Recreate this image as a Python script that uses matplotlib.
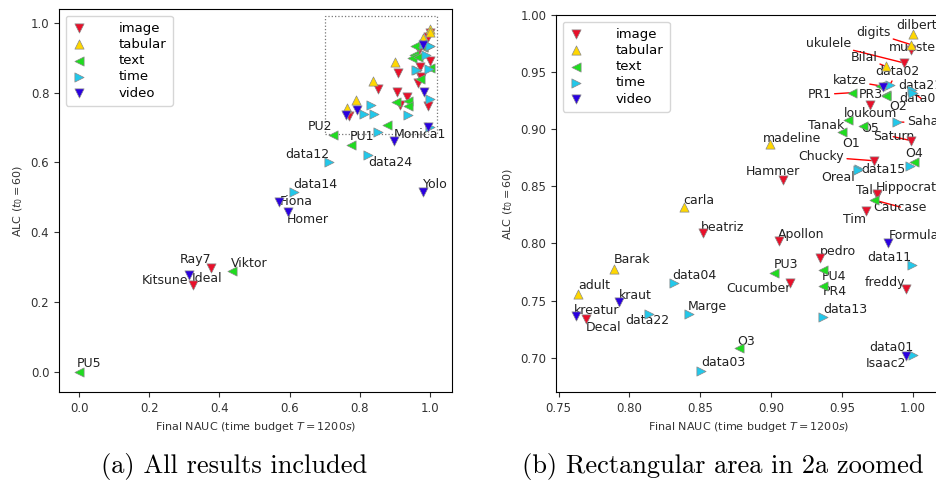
import matplotlib
matplotlib.use("Agg")
import matplotlib.pyplot as plt
from matplotlib.patches import Rectangle

# dataset names, their domain, final NAUC and ALC
names = ["PU5", "Kitsune", "Ideal", "Ray7", "Viktor", "Fiona", "Homer", "data14",
         "data12", "data24", "PU2", "PU1", "Monica1", "Yolo",
         "dilbert", "digits", "munster", "ukulele", "Bilal", "data02", "katze", "",
         "PR1", "PR3", "O2", "data21", "data05", "loukoum", "Tanak", "O1", "O5",
         "Sahal", "Saturn", "madeline", "O4", " ", "Chucky", "data15", "Oreal",
         "Hammer", "Tal", "Hippocrate", "Caucase", "Tim", "Formula", "data11",
         "freddy", "pedro", "PU4", "PR4", "data13", "data01", "Isaac2", "carla",
         "beatriz", "Apollon", "PU3", "Cucumber", "Barak", "adult", "kraut",
         "kreatur", "Decal", "data22", "data04", "Marge", "O3", "data03"]
domains = ["text", "video", "image", "image", "text", "video", "video", "time",
           "time", "time", "text", "text", "video", "video",
           "tabular", "tabular", "image", "image", "tabular", "time", "text", "video",
           "text", "text", "text", "time", "time", "image", "text", "text", "text",
           "time", "image", "tabular", "text", "time", "image", "time", "time",
           "image", "image", "image", "text", "image", "video", "time",
           "image", "image", "text", "text", "time", "time", "video", "tabular",
           "image", "image", "text", "image", "tabular", "tabular", "video",
           "video", "image", "time", "time", "time", "text", "time"]
nauc = [0.0, 0.314, 0.3235, 0.377, 0.436, 0.570, 0.595, 0.612,
        0.712, 0.825, 0.724, 0.776, 0.899, 0.980,
        1.000, 0.999, 0.999, 0.994, 0.981, 0.984, 0.977, 0.979,
        0.957, 0.981, 0.9815, 0.9995, 1.0005, 0.9696, 0.954, 0.950, 0.965,
        0.989, 0.999, 0.8995, 1.0006, 0.998, 0.973, 0.962, 0.9615,
        0.9084, 0.9745, 0.975, 0.973, 0.967, 0.9826, 0.9995,
        0.9955, 0.9348, 0.937, 0.937, 0.937, 1.0002, 0.9955, 0.8383,
        0.8517, 0.9054, 0.9023, 0.9136, 0.7893, 0.7637, 0.7928,
        0.7622, 0.7695, 0.8136, 0.8312, 0.8418, 0.8771, 0.8508]
alc = [0.0, 0.278, 0.249, 0.299, 0.289, 0.488, 0.4575, 0.514,
       0.601, 0.621, 0.679, 0.6485, 0.660, 0.515,
       0.983, 0.974, 0.969, 0.958, 0.955, 0.939, 0.938, 0.937,
       0.932, 0.930, 0.9293, 0.934, 0.932, 0.921, 0.908, 0.898, 0.903,
       0.906, 0.890, 0.887, 0.871, 0.868, 0.8724, 0.865, 0.8645,
       0.856, 0.8425, 0.843, 0.838, 0.828, 0.8005, 0.781,
       0.760, 0.787, 0.777, 0.7625, 0.736, 0.702, 0.7013, 0.8317,
       0.8092, 0.8025, 0.7743, 0.7655, 0.7778, 0.7554, 0.749,
       0.7364, 0.7335, 0.7379, 0.765, 0.7379, 0.7082, 0.6884]

categories = ["image", "tabular", "text", "time", "video"]

# styling
colors = {"image": "#e8102a", "tabular": "#ffd700", "text": "#1fdc1f",
          "time": "#22c8ea", "video": "#2a00e0"}
markers = {"image": "v", "tabular": "^", "text": "<", "time": ">", "video": "v"}

# label offsets (pixels) for panel (a) and panel (b)
offs_a = {"PU5": (10, 9), "Kitsune": (-24, -6), "Ideal": (15, 7), "Ray7": (-16, 8),
          "Viktor": (17, 8), "Fiona": (17, 0), "Homer": (20, -7), "data14": (22, 8),
          "data12": (-22, 8), "data24": (22, -7), "PU2": (-13, 8), "PU1": (11, 9),
          "Monica1": (25, 7), "Yolo": (12, 8)}
offs_b = {"dilbert": (4, 9), "digits": (-38, 12), "munster": (4, 3), "ukulele": (-76, 19),
          "Bilal": (-22, 9), "data02": (7, 13), "katze": (-30, 5), "PR1": (-32, -2),
          "PR3": (-15, 0), "data21": (8, 5), "data05": (8, -6), "O2": (12, -11),
          "loukoum": (1, -8), "Tanak": (-21, -5), "O1": (9, -12), "O5": (7, -3),
          "Sahal": (27, 1), "Saturn": (-18, 4), "madeline": (22, 6), "O4": (1, 9),
          "Chucky": (-53, 4), "data15": (25, 0), "Oreal": (-20, -8), "Hammer": (-10, 8),
          "Tal": (-12, 4), "Hippocrate": (33, 7), "Caucase": (26, -7), "Tim": (-11, -8),
          "Formula": (26, 7), "data11": (-23, 8), "freddy": (-21, 7), "pedro": (18, 7),
          "PU4": (11, -7), "PR4": (11, -5), "data13": (22, 7), "data01": (-22, 8),
          "Isaac2": (-20, -7), "carla": (15, 7), "beatriz": (20, 5), "Apollon": (22, 6),
          "PU3": (12, 8), "Cucumber": (-32, -6), "Barak": (18, 9), "adult": (16, 9),
          "kraut": (16, 6), "kreatur": (21, 6), "Decal": (17, -8), "data22": (-1, -6),
          "data04": (21, 8), "Marge": (19, 8), "O3": (8, 7), "data03": (22, 8)}
# labels whose red leader line is visible in the original
leaders = {"digits", "ukulele", "Bilal", "katze", "PR1", "data02", "data05", "Sahal",
           "Saturn", "Chucky", "Oreal", "Caucase", "munster"}

W, H = 937, 483
fig = plt.figure(figsize=(W / 100, H / 100), dpi=100)
ax1 = fig.add_axes([59 / W, 1 - 392 / H, 393 / W, 383 / H])
ax2 = fig.add_axes([556 / W, 1 - 392 / H, 385 / W, 377 / H])


def draw(ax, offs):
    for cat in categories:
        xs = [x for x, d in zip(nauc, domains) if d == cat]
        ys = [y for y, d in zip(alc, domains) if d == cat]
        ax.scatter(xs, ys, marker=markers[cat], s=44, c=colors[cat],
                   edgecolors="#8a8a8a", linewidths=0.5, label=cat, zorder=3)
    for n, x, y in zip(names, nauc, alc):
        if n not in offs:
            continue
        arrow = None
        if n in leaders:
            arrow = dict(arrowstyle="-", color="red", lw=1, shrinkA=0, shrinkB=0)
        ax.annotate(n, (x, y), xytext=offs[n], textcoords="offset pixels",
                    ha="center", va="center", fontsize=9, color="#222222",
                    arrowprops=arrow, zorder=2)
    ax.legend(loc="upper left", fontsize=9.5, handletextpad=2.4, borderpad=0.45,
              labelspacing=0.25, borderaxespad=0.5, handlelength=1.2)
    ax.set_xlabel("Final NAUC (time budget $T = 1200s$)", fontsize=8, color="#333333")
    ax.set_ylabel("ALC ($t_0 = 60$)", fontsize=8, color="#333333")
    ax.tick_params(labelsize=8.5, colors="#333333")


draw(ax1, offs_a)
ax1.set_xlim(-0.057, 1.063)
ax1.set_ylim(-0.057, 1.039)
ax1.set_xticks([0.0, 0.2, 0.4, 0.6, 0.8, 1.0])
ax1.set_yticks([0.0, 0.2, 0.4, 0.6, 0.8, 1.0])
ax1.add_patch(Rectangle((0.70, 0.68), 0.32, 0.34, fill=False, ls=":",
                        lw=0.9, ec="#777777", zorder=1))

draw(ax2, offs_b)
ax2.set_xlim(0.7482, 1.02)
ax2.set_ylim(0.67, 1.0)
ax2.set_xticks([0.75, 0.80, 0.85, 0.90, 0.95, 1.00])
ax2.set_yticks([0.70, 0.75, 0.80, 0.85, 0.90, 0.95, 1.00])
ax2.set_xticklabels(["%.2f" % t for t in ax2.get_xticks()])
ax2.set_yticklabels(["%.2f" % t for t in ax2.get_yticks()])

fig.text(234 / W, 1 - 466 / H, "(a) All results included", family="cmr10",
         fontsize=19, ha="center", va="center")
fig.text(723 / W, 1 - 466 / H, "(b) Rectangular area in 2a zoomed", family="cmr10",
         fontsize=19, ha="center", va="center")

fig.savefig("out.png", dpi=100)
